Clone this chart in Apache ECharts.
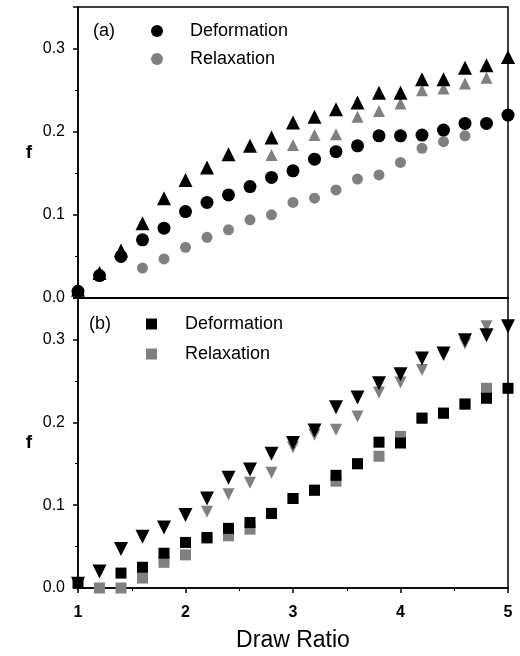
<!DOCTYPE html>
<html>
<head>
<meta charset="utf-8">
<script src="https://cdn.jsdelivr.net/npm/echarts@6/dist/echarts.min.js"></script>
<style>
  html, body { margin: 0; padding: 0; background: #fff; }
  #chart { width: 520px; height: 656px; }
</style>
</head>
<body>
<div id="chart"></div>
<script>
// draw ratio, 1.0 .. 5.0 step 0.2
const drawRatio = [1.0, 1.2, 1.4, 1.6, 1.8, 2.0, 2.2, 2.4, 2.6, 2.8, 3.0,
  3.2, 3.4, 3.6, 3.8, 4.0, 4.2, 4.4, 4.6, 4.8, 5.0];

// panel (a)
const aCircleDef = [0.008, 0.027, 0.050, 0.070, 0.084, 0.104, 0.115, 0.124, 0.134, 0.145, 0.153,
  0.167, 0.176, 0.183, 0.195, 0.195, 0.196, 0.202, 0.210, 0.210, 0.220];
const aCircleRel = [null, null, null, 0.036, 0.047, 0.061, 0.073, 0.082, 0.094, 0.100, 0.115,
  0.120, 0.130, 0.143, 0.148, 0.163, 0.180, 0.188, 0.195, 0.210, null];
const aTriDef = [0.010, 0.030, 0.057, 0.090, 0.120, 0.142, 0.157, 0.173, 0.183, 0.193, 0.211,
  0.218, 0.227, 0.235, 0.247, 0.247, 0.263, 0.263, 0.277, 0.280, 0.290];
const aTriRel = [null, null, null, null, null, null, null, null, null, 0.172, 0.184,
  0.196, 0.197, 0.218, 0.225, 0.234, 0.250, 0.252, 0.258, 0.265, null];

// panel (b)
const bSquareDef = [0.006, null, 0.018, 0.025, 0.042, 0.055, 0.061, 0.072, 0.079, 0.090, 0.108,
  0.118, 0.136, 0.150, 0.176, 0.175, 0.205, 0.211, 0.222, 0.229, 0.241];
const bSquareRel = [null, 0.000, 0.000, 0.012, 0.031, 0.040, 0.060, 0.063, 0.071, 0.090, 0.108,
  0.118, 0.129, 0.150, 0.159, 0.183, 0.205, 0.211, 0.222, 0.241, null];
const bTriDef = [0.005, 0.020, 0.047, 0.062, 0.073, 0.088, 0.108, 0.133, 0.143, 0.162, 0.175,
  0.190, 0.218, 0.230, 0.247, 0.258, 0.277, 0.283, 0.299, 0.305, 0.316];
const bTriRel = [null, null, null, null, null, null, 0.092, 0.113, 0.127, 0.139, 0.170,
  0.185, 0.191, 0.207, 0.236, 0.248, 0.263, 0.281, 0.295, 0.316, null];

const xTicks = [1, 2, 3, 4, 5];
const yTicks = [0, 0.1, 0.2, 0.3];

const BLACK = "#000";
const GRAY = "#808080";
const FONT = "Liberation Sans";

function pairs(ys) {
  return drawRatio.map((x, i) => [x, ys[i]]).filter((p) => p[1] !== null);
}

function xAxisFor(gridIndex, showLabels) {
  return {
    type: "value",
    gridIndex,
    min: xTicks[0],
    max: xTicks[xTicks.length - 1],
    interval: 1,
    axisLine: { show: true, onZero: false, lineStyle: { color: BLACK, width: 1.5 } },
    axisTick: { show: showLabels, length: 5, lineStyle: { color: BLACK, width: 1.5 } },
    minorTick: { show: showLabels, splitNumber: 2, length: 3, lineStyle: { color: BLACK } },
    axisLabel: {
      show: showLabels,
      color: BLACK,
      fontFamily: FONT,
      fontSize: 16,
      fontWeight: "bold",
      margin: 17,
    },
    splitLine: { show: false },
    name: showLabels ? "Draw Ratio" : "",
    nameLocation: "middle",
    nameGap: 41,
    nameTextStyle: { color: BLACK, fontFamily: FONT, fontSize: 23 },
  };
}

function yAxisFor(gridIndex) {
  return {
    type: "value",
    gridIndex,
    min: 0,
    max: 0.35,
    interval: 0.1,
    axisLine: { show: true, onZero: false, lineStyle: { color: BLACK, width: 1.5 } },
    axisTick: { show: true, length: 5, lineStyle: { color: BLACK, width: 1.5 } },
    minorTick: { show: true, splitNumber: 2, length: 3, lineStyle: { color: BLACK } },
    axisLabel: {
      color: BLACK,
      fontFamily: FONT,
      fontSize: 16,
      margin: 13,
      showMaxLabel: false,
      formatter: (v) => (yTicks.some((t) => Math.abs(t - v) < 1e-9) ? v.toFixed(1) : ""),
    },
    splitLine: { show: false },
    name: "f",
    nameLocation: "middle",
    nameRotate: 0,
    nameGap: 46,
    nameTextStyle: { color: BLACK, fontFamily: FONT, fontSize: 19, fontWeight: "bold" },
  };
}

function scatter(name, idx, data, symbol, size, color, rotate) {
  return {
    type: "scatter",
    name,
    xAxisIndex: idx,
    yAxisIndex: idx,
    data: pairs(data),
    symbol,
    symbolSize: size,
    symbolRotate: rotate || 0,
    clip: false,
    itemStyle: { color, opacity: 1 },
  };
}

const legendText = { color: BLACK, fontFamily: FONT, fontSize: 18, lineHeight: 18 };

const chart = echarts.init(document.getElementById("chart"));
chart.setOption({
  backgroundColor: "#fff",
  animation: false,
  textStyle: { fontFamily: FONT },
  grid: [
    { left: 78, top: 7, width: 430, height: 291, show: true, borderColor: BLACK, borderWidth: 1.5 },
    { left: 78, top: 298, width: 430, height: 290, show: true, borderColor: BLACK, borderWidth: 1.5 },
  ],
  xAxis: [xAxisFor(0, false), xAxisFor(1, true)],
  yAxis: [yAxisFor(0), yAxisFor(1)],
  legend: [
    {
      data: ["a-Deformation", "a-Relaxation"],
      orient: "vertical",
      left: 151,
      top: 22,
      padding: 0,
      itemWidth: 12,
      itemHeight: 12,
      itemGap: 10,
      formatter: (n) => n.slice(2),
      textStyle: Object.assign({ padding: [0, 0, 0, 22] }, legendText),
      selectedMode: false,
    },
    {
      data: ["b-Deformation", "b-Relaxation"],
      orient: "vertical",
      left: 146,
      top: 315,
      padding: 0,
      itemWidth: 11,
      itemHeight: 11,
      itemGap: 12,
      formatter: (n) => n.slice(2),
      textStyle: Object.assign({ padding: [0, 0, 0, 23] }, legendText),
      selectedMode: false,
    },
  ],
  graphic: [
    { type: "text", left: 93, top: 22, style: { text: "(a)", font: "18px " + FONT, fill: BLACK } },
    { type: "text", left: 89, top: 315, style: { text: "(b)", font: "18px " + FONT, fill: BLACK } },
  ],
  series: [
    scatter("a-Relaxation", 0, aCircleRel, "circle", 11, GRAY),
    scatter("a-Relaxation-2", 0, aTriRel, "triangle", 12, GRAY),
    scatter("a-Deformation", 0, aCircleDef, "circle", 13, BLACK),
    scatter("a-Deformation-2", 0, aTriDef, "triangle", 14, BLACK),
    scatter("b-Relaxation", 1, bSquareRel, "rect", 11, GRAY),
    scatter("b-Relaxation-2", 1, bTriRel, "triangle", 12, GRAY, 180),
    scatter("b-Deformation", 1, bSquareDef, "rect", 11, BLACK),
    scatter("b-Deformation-2", 1, bTriDef, "triangle", 14, BLACK, 180),
  ],
});
</script>
</body>
</html>
